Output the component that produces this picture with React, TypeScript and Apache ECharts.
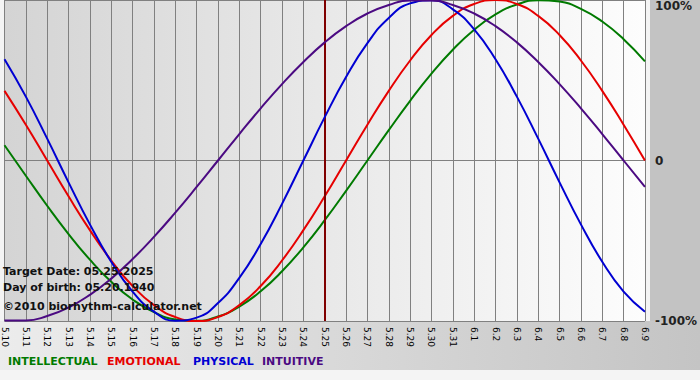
import React, { useEffect, useRef } from 'react';
import * as echarts from 'echarts';

const days = ['5.10','5.11','5.12','5.13','5.14','5.15','5.16','5.17','5.18','5.19','5.20','5.21','5.22','5.23','5.24','5.25','5.26','5.27','5.28','5.29','5.30','5.31','6.1','6.2','6.3','6.4','6.5','6.6','6.7','6.8','6.9'];
const intellectual = [9.5,-9.5,-28.2,-45.8,-61.8,-75.6,-86.6,-94.5,-99.0,-99.9,-97.2,-91.0,-81.5,-69.0,-54.1,-37.2,-18.9,0,18.9,37.2,54.1,69.0,81.5,91.0,97.2,99.9,99.0,94.5,86.6,75.6,61.8];
const emotional = [43.4,22.3,0,-22.3,-43.4,-62.3,-78.2,-90.1,-97.5,-100,-97.5,-90.1,-78.2,-62.3,-43.4,-22.3,0,22.3,43.4,62.3,78.2,90.1,97.5,100,97.5,90.1,78.2,62.3,43.4,22.3,0];
const physical = [63.1,39.8,13.6,-13.6,-39.8,-63.1,-81.7,-94.2,-99.8,-97.9,-88.8,-73.1,-52.0,-27.0,0,27.0,52.0,73.1,88.8,97.9,99.8,94.2,81.7,63.1,39.8,13.6,-13.6,-39.8,-63.1,-81.7,-94.2];
const intuitive = [-99.7,-99.7,-96.9,-91.6,-83.7,-73.6,-61.4,-47.6,-32.5,-16.5,0,16.5,32.5,47.6,61.4,73.6,83.7,91.6,96.9,99.7,99.7,96.9,91.6,83.7,73.6,61.4,47.6,32.5,16.5,0,-16.5];
const seriesNames = ['INTELLECTUAL', 'EMOTIONAL', 'PHYSICAL', 'INTUITIVE'];
const seriesColors = ['#007a00', '#e60000', '#0000d2', '#4b0a82'];
const legendX = [8, 107, 193, 262];
const yMin = -100;
const yMax = 100;
const yStep = 100;
const targetDay = '5.25';
const infoLines = ['Target Date: 05.25.2025', 'Day of birth: 05.20.1940', '\u00A92010 biorhythm-calculator.net'];
const infoY = [271, 287, 306];

export default function App() {
  const ref = useRef<HTMLDivElement>(null);
  useEffect(() => {
    if (!ref.current) return;
    const chart = echarts.init(ref.current, undefined, { renderer: 'svg' });
    const dataSets = [intellectual, emotional, physical, intuitive];
    const font = '"DejaVu Sans", Verdana, sans-serif';
    const graphic: any[] = [
      {
        type: 'rect', z: -10, silent: true,
        shape: { x: 0, y: 321, width: 700, height: 49 },
        style: { fill: new echarts.graphic.LinearGradient(0, 0, 1, 0, [
          { offset: 0, color: '#ececec' }, { offset: 1, color: '#c4c4c4' }]) },
      },
      {
        type: 'rect', z: -10, silent: true,
        shape: { x: 650, y: 0, width: 50, height: 321 },
        style: { fill: '#c3c3c3' },
      },
    ];
    infoLines.forEach((t, i) => {
      graphic.push({
        type: 'text', z: 100, x: 3, y: infoY[i],
        style: { text: t, fill: '#111', font: `bold 11px ${font}`, verticalAlign: 'middle' },
      });
    });
    seriesNames.forEach((n, i) => {
      graphic.push({
        type: 'text', z: 100, x: legendX[i], y: 361,
        style: { text: n, fill: seriesColors[i], font: `bold 11px ${font}`, verticalAlign: 'middle' },
      });
    });
    const series: any[] = seriesNames.map((n, i) => ({
      name: n,
      type: 'line',
      data: dataSets[i],
      smooth: 0.5,
      showSymbol: false,
      symbol: 'none',
      lineStyle: { color: seriesColors[i], width: 2 },
      itemStyle: { color: seriesColors[i] },
      z: 3 + i,
      ...(i === 0 ? {
        markLine: {
          silent: true,
          symbol: 'none',
          label: { show: false },
          lineStyle: { color: '#7f0000', width: 2, type: 'solid' },
          data: [{ xAxis: targetDay }],
        },
      } : {}),
    }));
    chart.setOption({
      animation: false,
      backgroundColor: '#f4f4f4',
      grid: {
        left: 0, right: 50, top: 0, bottom: 59, show: true, borderWidth: 0,
        backgroundColor: new echarts.graphic.LinearGradient(0, 0, 1, 0, [
          { offset: 0, color: '#d4d4d4' }, { offset: 1, color: '#fdfdfd' }]),
      },
      xAxis: {
        type: 'category',
        data: days,
        boundaryGap: false,
        axisLine: { lineStyle: { color: '#808080', width: 1 } },
        axisTick: { show: true, length: 4, lineStyle: { color: '#808080' } },
        splitLine: { show: true, lineStyle: { color: '#808080', width: 1 } },
        axisLabel: { rotate: -90, fontSize: 9, color: '#000', fontFamily: font, margin: 6, interval: 0 },
      },
      yAxis: {
        type: 'value',
        position: 'right',
        min: yMin, max: yMax, interval: yStep,
        axisLine: { show: false },
        axisTick: { show: false },
        splitLine: { show: true, lineStyle: { color: '#808080', width: 1 } },
        axisLabel: {
          margin: 10, fontSize: 12, fontWeight: 'bold', color: '#222', fontFamily: font,
          formatter: (v: number) => (v === 0 ? '0' : `${v}%`),
          verticalAlignMaxLabel: 'top',
        },
      },
      graphic,
      series,
    });
    return () => chart.dispose();
  }, []);
  return <div ref={ref} style={{ position: 'absolute', left: 0, top: 0, width: 700, height: 380 }} />;
}
